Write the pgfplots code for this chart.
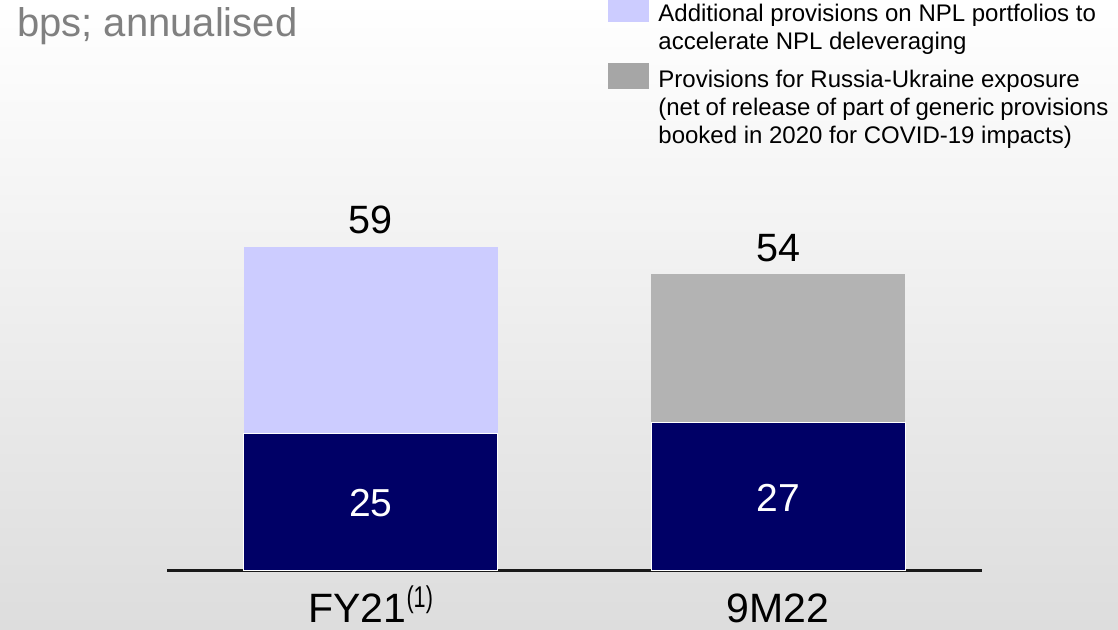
\documentclass[border=0pt]{standalone}
\usepackage{pgfplots}
\pgfplotsset{compat=1.18}
\usepackage{fontspec}
\setmainfont{Liberation Sans}
\definecolor{navy}{RGB}{0,0,102}
\definecolor{lav}{RGB}{204,204,255}
\definecolor{gbar}{RGB}{179,179,179}
\definecolor{glegend}{RGB}{166,166,166}
\definecolor{titlegray}{RGB}{128,128,128}
\definecolor{bgbottom}{RGB}{221,221,221}
\newcommand{\legfont}{\fontsize{24}{28}\selectfont}
\begin{document}
\begin{tikzpicture}[x=1pt,y=1pt]
\path[use as bounding box] (0,0) rectangle (1118,629);
\clip (0,0) rectangle (1118,629);
\shade[top color=white, bottom color=bgbottom] (0,0) rectangle (1118,629);
\node[anchor=base west, inner sep=0pt, text=titlegray, font=\fontsize{40}{48}\selectfont] at (17,592) {bps; annualised};
\begin{axis}[
  at={(167pt,58.5pt)}, anchor=south west,
  scale only axis, width=815pt, height=548.3pt,
  xmin=-0.5, xmax=1.5, ymin=0, ymax=100,
  clip=false,
  ybar stacked, bar width=254pt,
  axis x line=bottom, axis y line=none,
  x axis line style={-, line width=2.5pt, color=black!90},
  xtick={0,1}, xticklabels={FY21{\fontsize{30}{32}\selectfont\raisebox{14.5pt}{\scalebox{0.72}[1]{(1)}}}, 9M22},
  major tick length=0pt, xtick style={draw=none},
  xticklabel style={font=\fontsize{41}{49}\selectfont, anchor=base, yshift=-51.5pt, inner sep=0pt},
  legend style={at={(0.5411,1.0457)}, anchor=north west, draw=none, fill=none,
    inner sep=0pt, outer sep=0pt, row sep=8.3pt, column sep=10pt,
    cells={anchor=base west},
    nodes={inner sep=0pt, text depth=, font=\legfont}},
]
\addlegendimage{legend image code/.code={\fill[lav] (0pt,0.5pt) rectangle (40pt,24.5pt);}}
\addlegendimage{legend image code/.code={\fill[glegend] (0pt,0pt) rectangle (40pt,24.5pt);}}
\addplot[fill=navy, draw=white, line width=1.2pt] coordinates {(0,25) (1,27)};
\addplot[fill=lav, draw=none] coordinates {(0,34) (1,0)};
\addplot[fill=gbar, draw=none] coordinates {(0,0) (1,27)};
\legend{{\parbox[t]{450pt}{\legfont Additional provisions on NPL portfolios to\\accelerate NPL deleveraging}},
        {\parbox[t]{450pt}{\legfont Provisions for Russia-Ukraine exposure\\(net of release of part of generic provisions\\booked in 2020 for COVID-19 impacts)}}}
\coordinate (t1) at (axis cs:0,59);
\coordinate (t2) at (axis cs:1,54);
\coordinate (i1) at (axis cs:0,12.5);
\coordinate (i2) at (axis cs:1,13.5);
\end{axis}
\node[anchor=base, inner sep=0pt, font=\fontsize{39.5}{46}\selectfont, yshift=13.4pt] at (t1) {59};
\node[anchor=base, inner sep=0pt, font=\fontsize{39.5}{46}\selectfont, yshift=13.4pt] at (t2) {54};
\node[inner sep=0pt, text=white, font=\fontsize{39}{46}\selectfont, yshift=-1pt] at (i1) {25};
\node[inner sep=0pt, text=white, font=\fontsize{39}{46}\selectfont, yshift=-1pt] at (i2) {27};
\end{tikzpicture}
\end{document}
